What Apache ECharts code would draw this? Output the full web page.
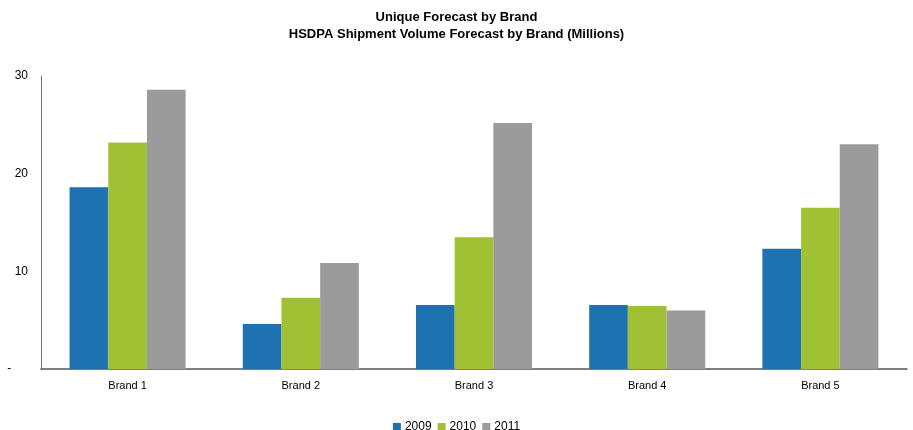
<!DOCTYPE html>
<html><head><meta charset="utf-8">
<script src="https://cdn.jsdelivr.net/npm/echarts@6/dist/echarts.min.js"></script>
<style>html,body{margin:0;padding:0;background:#fff}#c{width:913px;height:430px}</style>
</head><body><div id="c"></div>
<script>
const categories = ['Brand 1','Brand 2','Brand 3','Brand 4','Brand 5'];
const seriesNames = ['2009','2010','2011'];
const v2009 = [18.6, 4.6, 6.55, 6.55, 12.3];
const v2010 = [23.2, 7.3, 13.5, 6.45, 16.5];
const v2011 = [28.6, 10.85, 25.2, 6.0, 23.0];
const yTicks = [0, 10, 20, 30];
const colors = ['#1F72B1', '#A0C133', '#9B9B9B'];
const font = 'Liberation Sans, Arial, sans-serif';
const chart = echarts.init(document.getElementById('c'));
chart.setOption({
  animation: false,
  color: colors,
  title: {
    text: 'Unique Forecast by Brand\nHSDPA Shipment Volume Forecast by Brand (Millions)',
    left: 'center', top: 4,
    textStyle: {fontFamily: font, fontSize: 13, fontWeight: 'bold', color: '#000', lineHeight: 17}
  },
  legend: {
    top: 416, left: 'center', itemWidth: 8, itemHeight: 8, itemGap: 6,
    icon: 'rect',
    textStyle: {fontFamily: font, fontSize: 12, color: '#000', padding: [0,0,0,-1]},
    data: seriesNames
  },
  grid: {left: 41, right: 6, top: 76, bottom: 61},
  xAxis: {
    type: 'category', data: categories,
    axisLine: {lineStyle: {color: '#555', width: 1.5}},
    axisTick: {show: false},
    axisLabel: {fontFamily: font, fontSize: 11, color: '#000', margin: 11}
  },
  yAxis: {
    type: 'value', min: yTicks[0], max: yTicks[yTicks.length-1], interval: 10,
    axisLine: {show: true, lineStyle: {color: '#777'}},
    axisTick: {show: false},
    splitLine: {show: false},
    axisLabel: {fontFamily: font, fontSize: 12, color: '#000', margin: 13,
      formatter: v => v === 0 ? '-     ' : String(v)}
  },
  series: [
    {name: seriesNames[0], type: 'bar', data: v2009, barGap: '0%', barCategoryGap: '33%'},
    {name: seriesNames[1], type: 'bar', data: v2010, barGap: '0%', barCategoryGap: '33%'},
    {name: seriesNames[2], type: 'bar', data: v2011, barGap: '0%', barCategoryGap: '33%'}
  ]
});
</script></body></html>
